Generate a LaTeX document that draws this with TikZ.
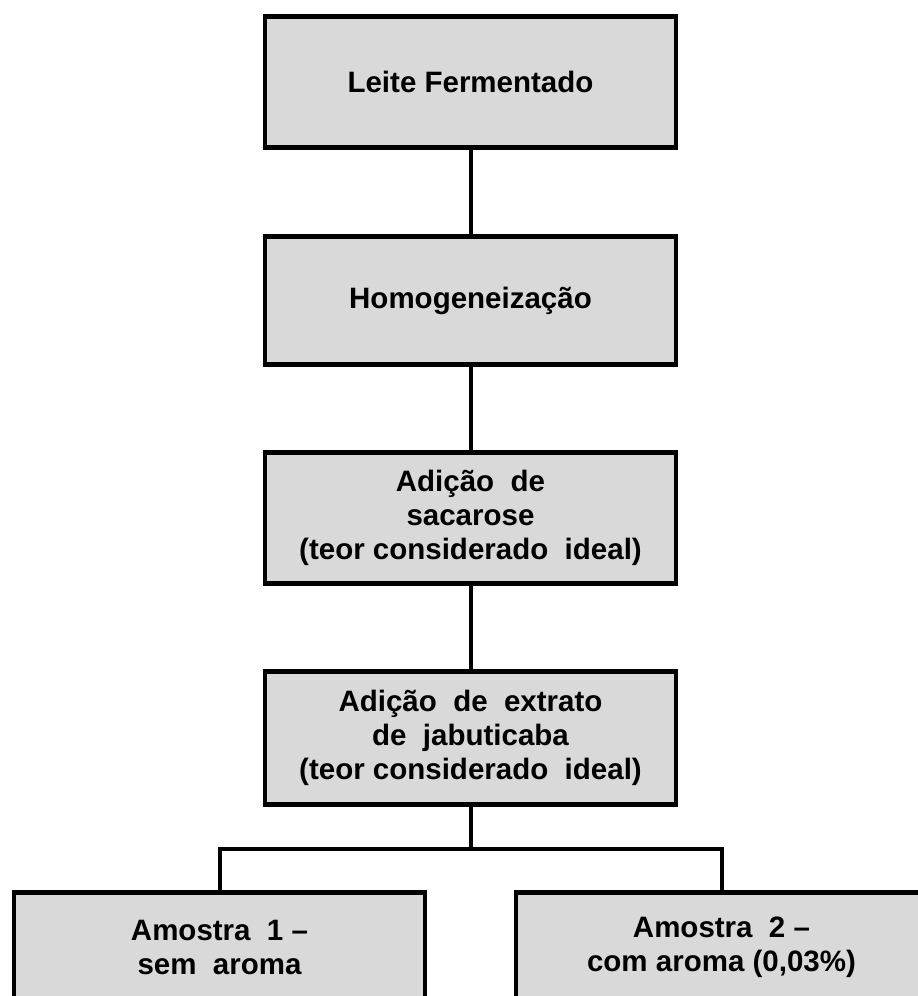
\documentclass[tikz,border=0pt]{standalone}
\usepackage{fontspec}
\setmainfont{Liberation Sans}
\definecolor{boxfill}{HTML}{D9D9D9}
\begin{document}
\begin{tikzpicture}[x=1pt,y=-1pt,
  stepbox/.style={draw=black, line width=4.5pt, fill=boxfill,
    minimum width=411pt, minimum height=131pt, inner sep=0pt,
    align=center, font=\fontsize{29.5}{34}\selectfont\bfseries},
  link/.style={draw=black, line width=4pt}]
  \useasboundingbox (0,0) rectangle (918,996);
  \clip (0,0) rectangle (918,996);

  % process steps
  \node[stepbox] (b1) at (470.5,82) {Leite Fermentado};
  \node[stepbox, minimum height=128pt] (b2) at (470.5,300.5) {Homogeneização};
  \node[stepbox] (b3) at (470.5,518) {Adição\ \ de\\sacarose\\(teor considerado\ \ ideal)};
  \node[stepbox, minimum height=133pt] (b4) at (470.5,738) {Adição\ \ de\ \ extrato\\de\ \ jabuticaba\\(teor considerado\ \ ideal)};

  % samples
  \node[stepbox, minimum height=110pt] (s1) at (219.5,947.5) {Amostra\ \ 1 –\\sem\ \ aroma};
  \node[stepbox, minimum height=110pt] (s2) at (721.5,947.5) {Amostra\ \ 2 –\\com aroma (0,03\%)};

  % connectors
  \coordinate (j) at (470.5,849);
  \draw[link] (b1) -- (b2);
  \draw[link] (b2) -- (b3);
  \draw[link] (b3) -- (b4);
  \draw[link] (b4) -- (j);
  \draw[link] (s1.north) |- (j) -| (s2.north);
\end{tikzpicture}
\end{document}
